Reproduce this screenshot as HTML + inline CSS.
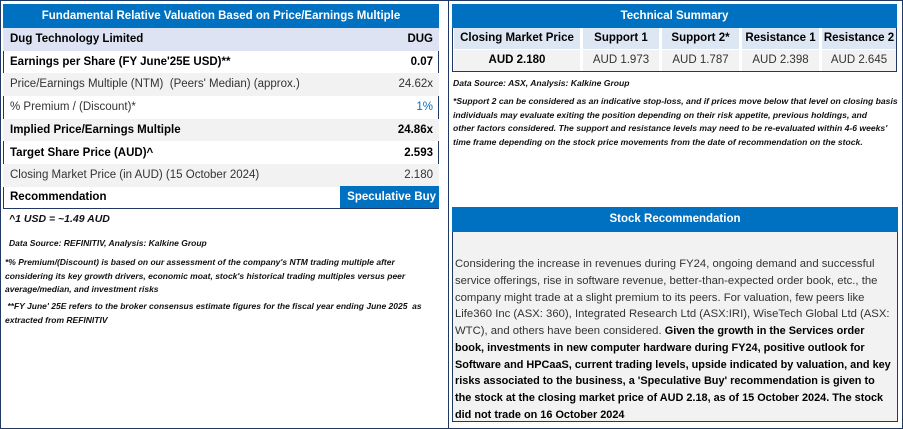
<!DOCTYPE html>
<html><head><meta charset="utf-8"><style>
*{margin:0;padding:0;box-sizing:border-box}
body{width:903px;height:429px;background:#fff;font-family:"Liberation Sans",sans-serif;position:relative;overflow:hidden;color:#000}
.abs{position:absolute}
.panel{position:absolute;border:1.5px solid #1f3864}
.title{position:absolute;background:#0070c0;color:#fff;font-weight:bold;font-size:11.5px;text-align:center;line-height:24px}
.row{position:absolute;left:3px;width:436px;height:22.7px;font-size:11.5px;line-height:22.7px;padding:0 6px 0 7px;display:flex;justify-content:space-between;white-space:nowrap}
.b{font-weight:bold}
.g{background:#f2f2f2;color:#333}
.cell{position:absolute;height:21px;line-height:21px;text-align:center;font-size:11.5px;white-space:nowrap}
.h{background:#dde6f3;font-weight:bold}
.v{background:#f2f2f2;color:#333}
.note{position:absolute;font-style:italic;font-weight:bold;font-size:9px;white-space:nowrap;line-height:13.5px;color:#111}
.rec{position:absolute;left:455px;top:256px;font-size:11.3px;line-height:16.75px;white-space:nowrap;color:#333}
.rec b{color:#000;font-size:10.9px}
</style></head><body>
<div class="panel" style="left:0;top:0;width:449px;height:429px"></div>
<div class="panel" style="left:449px;top:0;width:454px;height:429px;border-left:none"></div>

<div class="abs" style="left:3px;top:4px;width:436px;height:205px;border:1.5px solid #1f3864"></div>
<div class="title" style="left:3px;top:4px;width:436px;height:24px">Fundamental Relative Valuation Based on Price/Earnings Multiple</div>
<div class="row b" style="top:28px;background:#dde3f2"><span>Dug Technology Limited</span><span>DUG</span></div>
<div class="row b" style="top:50.7px"><span>Earnings per Share (FY June'25E USD)**</span><span>0.07</span></div>
<div class="row g" style="top:73.4px"><span>Price/Earnings Multiple (NTM)&nbsp; (Peers' Median) (approx.)</span><span>24.62x</span></div>
<div class="row" style="top:96.1px;color:#333"><span>% Premium / (Discount)*</span><span style="color:#0070c0">1%</span></div>
<div class="row b g" style="top:118.8px;color:#000"><span>Implied Price/Earnings Multiple</span><span>24.86x</span></div>
<div class="row b" style="top:141.5px"><span>Target Share Price (AUD)^</span><span>2.593</span></div>
<div class="row g" style="top:164.2px"><span>Closing Market Price (in AUD) (15 October 2024)</span><span>2.180</span></div>
<div class="row b" style="top:186.3px"><span>Recommendation</span></div>
<div class="abs" style="left:340px;top:186px;width:99px;height:22px;background:#0070c0;color:#fff;font-weight:bold;font-size:11.5px;line-height:22px;text-align:right;padding-right:3px">Speculative Buy</div>

<div class="note" style="left:9px;top:213px;font-size:10.5px">^1 USD = ~1.49 AUD</div>
<div class="note" style="left:9px;top:237px;font-size:8.5px">Data Source: REFINITIV, Analysis: Kalkine Group</div>
<div class="note" style="left:5px;top:256px;font-size:8.5px">*% Premium/(Discount) is based on our assessment of the company's NTM trading multiple after<br>considering its key growth drivers, economic moat, stock's historical trading multiples versus peer<br>average/median, and investment risks</div>
<div class="note" style="left:5px;top:300px;font-size:8.5px">&nbsp;**FY June' 25E refers to the broker consensus estimate figures for the fiscal year ending June 2025&nbsp; as<br>extracted from REFINITIV</div>

<div class="abs" style="left:452px;top:4px;width:445px;height:68px;border:1.5px solid #1f3864"></div>
<div class="title" style="left:452px;top:4px;width:445px;height:24px">Technical Summary</div>
<div class="cell h" style="left:454px;top:28px;width:126px">Closing Market Price</div>
<div class="cell h" style="left:583px;top:28px;width:76px">Support 1</div>
<div class="cell h" style="left:662px;top:28px;width:77px">Support 2*</div>
<div class="cell h" style="left:742px;top:28px;width:77px">Resistance 1</div>
<div class="cell h" style="left:822px;top:28px;width:74px">Resistance 2</div>
<div class="cell v b" style="left:454px;top:50px;width:126px;color:#000">AUD 2.180</div>
<div class="cell v" style="left:583px;top:50px;width:76px">AUD 1.973</div>
<div class="cell v" style="left:662px;top:50px;width:77px">AUD 1.787</div>
<div class="cell v" style="left:742px;top:50px;width:77px">AUD 2.398</div>
<div class="cell v" style="left:822px;top:50px;width:74px">AUD 2.645</div>

<div class="note" style="left:453px;top:77px;font-size:8.6px">Data Source: ASX, Analysis: Kalkine Group</div>
<div class="note" style="left:453px;top:95px;font-size:8.6px">*Support 2 can be considered as an indicative stop-loss, and if prices move below that level on closing basis<br>individuals may evaluate exiting the position depending on their risk appetite, previous holdings, and<br>other factors considered. The support and resistance levels may need to be re-evaluated within 4-6 weeks'<br>time frame depending on the stock price movements from the date of recommendation on the stock.</div>

<div class="abs" style="left:452px;top:207px;width:446px;height:215px;border:1.5px solid #1f3864;background:#f2f2f2"></div>
<div class="title" style="left:452px;top:207px;width:446px;height:25px;line-height:25px">Stock Recommendation</div>
<div class="rec">Considering the increase in revenues during FY24, ongoing demand and successful<br>service offerings, rise in software revenue, better-than-expected order book, etc., the<br>company might trade at a slight premium to its peers. For valuation, few peers like<br>Life360 Inc (ASX: 360), Integrated Research Ltd (ASX:IRI), WiseTech Global Ltd (ASX:<br>WTC), and others have been considered. <b>Given the growth in the Services order<br>book, investments in new computer hardware during FY24, positive outlook for<br>Software and HPCaaS, current trading levels, upside indicated by valuation, and key<br>risks associated to the business, a 'Speculative Buy' recommendation is given to<br>the stock at the closing market price of AUD 2.18, as of 15 October 2024. The stock<br>did not trade on 16 October 2024</b></div>
</body></html>
